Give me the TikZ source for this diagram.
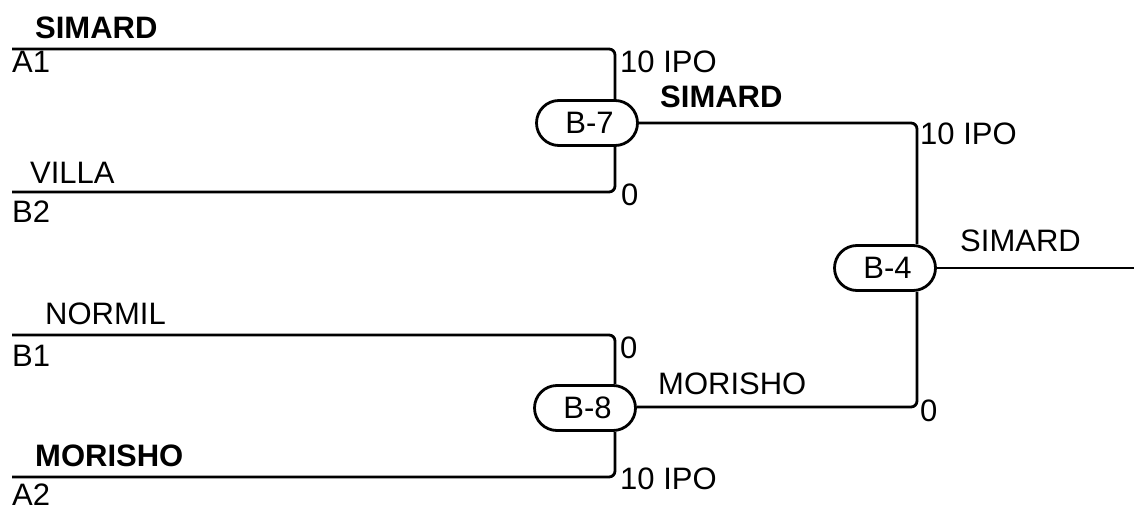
\documentclass[tikz,border=0pt]{standalone}
\usepackage{fontspec}
\setmainfont{Liberation Sans}
\usetikzlibrary{shapes.misc}
\tikzset{
  match/.style={draw, line width=2.8pt, rounded rectangle, minimum width=101pt, minimum height=45pt, inner sep=0pt, font=\fontsize{31}{36}\selectfont},
  lbl/.style={anchor=base west, inner sep=0pt, font=\fontsize{31}{36}\selectfont},
  win/.style={lbl, font=\fontsize{31}{36}\selectfont\bfseries},
  wire/.style={line width=2.8pt, rounded corners=6pt}
}
\begin{document}
\begin{tikzpicture}[x=1pt,y=-1pt]
\useasboundingbox (0,0) rectangle (1134,508);

				% matches
				\node[match] (B7) at (587,123) {\,B-7};
				\node[match] (B8) at (585,408) {\,B-8};
				\node[match] (B4) at (885,268) {\,B-4};

				% free ends of the lines
				\coordinate (A1) at (12,49);
				\coordinate (A1e) at (615,49);
				\coordinate (B2) at (12,192);
				\coordinate (B2e) at (615,192);
				\coordinate (B1) at (12,335);
				\coordinate (B1e) at (615,335);
				\coordinate (A2) at (12,477);
				\coordinate (A2e) at (615,477);
				\coordinate (T) at (917,123);
				\coordinate (U) at (917,407);
				\coordinate (W) at (1134,268);

				\draw[wire] (A1) -- (A1e) -- (B7.north -| A1e);
				\draw[wire] (B2) -- (B2e) -- (B7.south -| B2e);
				\draw[wire] (B1) -- (B1e) -- (B8.north -| B1e);
				\draw[wire] (A2) -- (A2e) -- (B8.south -| A2e);
				\draw[wire] (B7.east) -- (T) -- (B4.north -| T);
				\draw[wire] (B8.east |- U) -- (U) -- (B4.south -| U);
				\draw[wire] (B4.east) -- (W);

				% names and scores
				\node[win] (n1) at (35,39) {SIMARD};
				\node[lbl] (s1) at (12,73) {A1};
				\node[lbl] (p1) at (620,73) {10 IPO};
				\node[lbl] (n2) at (30,183) {VILLA};
				\node[lbl] (s2) at (12,222) {B2};
				\node[lbl] (p2) at (621,205) {0};
				\node[lbl] (n3) at (45,324) {NORMIL};
				\node[lbl] (s3) at (12,366) {B1};
				\node[lbl] (p3) at (620,358) {0};
				\node[win] (n4) at (35,466) {MORISHO};
				\node[lbl] (s4) at (12,505) {A2};
				\node[lbl] (p4) at (620,489) {10 IPO};
				\node[win] (n5) at (660,108) {SIMARD};
				\node[lbl] (p5) at (920,144) {10 IPO};
				\node[lbl] (n6) at (658,394) {MORISHO};
				\node[lbl] (p6) at (920,421) {0};
				\node[lbl] (n7) at (960,251) {SIMARD};
\end{tikzpicture}
\end{document}
